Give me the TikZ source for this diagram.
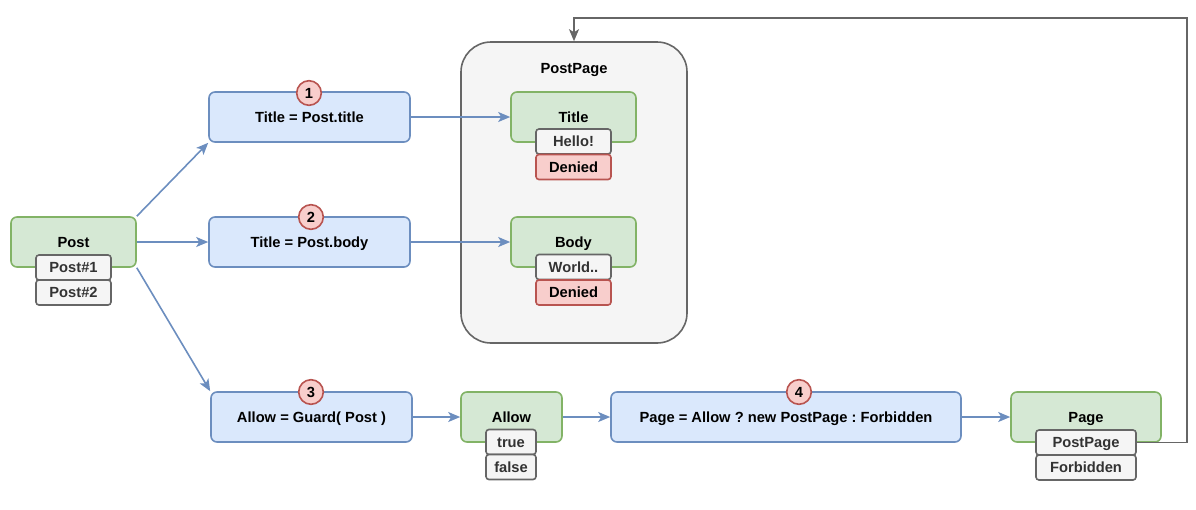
\documentclass[tikz,border=0pt]{standalone}
\usepackage{fontspec}
\setmainfont{Liberation Sans}
\usetikzlibrary{arrows.meta}
\frenchspacing
\definecolor{bfill}{HTML}{DAE8FC}
\definecolor{bdraw}{HTML}{6C8EBF}
\definecolor{gfill}{HTML}{D5E8D4}
\definecolor{gdraw}{HTML}{82B366}
\definecolor{rfill}{HTML}{F8CECC}
\definecolor{rdraw}{HTML}{B85450}
\definecolor{kfill}{HTML}{F5F5F5}
\definecolor{kdraw}{HTML}{666666}
\definecolor{ktext}{HTML}{333333}
\tikzset{
  base/.style={rounded corners=6pt, line width=1.6pt, inner sep=0pt,
    font=\fontsize{14.7}{17}\selectfont\bfseries, text height=10.4pt, text depth=0pt},
  bluebox/.style={base, draw=bdraw, fill=bfill, minimum width=201pt, minimum height=50pt},
  greenbox/.style={base, draw=gdraw, fill=gfill, minimum height=50pt},
  itembox/.style={base, rounded corners=3pt, draw=kdraw, fill=kfill, text=ktext, minimum height=25pt},
  denybox/.style={base, rounded corners=3pt, draw=rdraw, fill=rfill, minimum width=75pt, minimum height=25pt},
  numcirc/.style={circle, draw=rdraw, fill=rfill, line width=1.6pt, minimum size=24.6pt, inner sep=0pt,
    font=\fontsize{14.7}{17}\selectfont\bfseries, text height=10.4pt, text depth=0pt},
  tip/.style={-{Stealth[length=12pt,width=10pt,inset=3pt]}},
  flow/.style={draw=bdraw, line width=1.6pt, tip},
  loop/.style={draw=kdraw, line width=1.6pt, tip},
}
\begin{document}
\begin{tikzpicture}[x=1pt,y=-1pt]
\useasboundingbox (0,0) rectangle (1196,509);

% PostPage container
\node[base, draw=kdraw, fill=kfill, rounded corners=30pt, minimum width=226pt, minimum height=301pt] (cont) at (574,192.5) {};
\node[font=\fontsize{14.7}{17}\selectfont\bfseries, inner sep=0pt, text height=10.4pt, text depth=0pt] (contlbl) at (574,68) {PostPage};

% Post
\node[greenbox, minimum width=125pt] (post) at (73.5,242) {Post};
\node[itembox, minimum width=75pt] (post1) at (73.5,267.5) {Post\#1};
\node[itembox, minimum width=75pt] (post2) at (73.5,292.5) {Post\#2};

% Blue boxes
\node[bluebox] (t1) at (309.5,117) {Title = Post.title};
\node[bluebox] (t2) at (309.5,242) {Title = Post.body};
\node[bluebox] (al) at (311.5,417) {Allow = Guard( Post )};
\node[bluebox, minimum width=350pt] (pg) at (786,417) {Page = Allow ? new PostPage : Forbidden};

\node[numcirc] (n1) at (309,93) {1};
\node[numcirc] (n2) at (311,217) {2};
\node[numcirc] (n3) at (311,392) {3};
\node[numcirc] (n4) at (799,392) {4};

% Title / Body
\node[greenbox, minimum width=125pt] (title) at (573.5,117) {Title};
\node[itembox, minimum width=75pt] (hello) at (573.5,141.5) {Hello!};
\node[denybox] (deny1) at (573.5,167) {Denied};
\node[greenbox, minimum width=125pt] (body) at (573.5,242) {Body};
\node[itembox, minimum width=75pt] (world) at (573.5,267) {World..};
\node[denybox] (deny2) at (573.5,292.5) {Denied};

% Allow
\node[greenbox, minimum width=101pt] (allow) at (511.5,417) {Allow};
\node[itembox, minimum width=50pt] (true) at (511,442) {true};
\node[itembox, minimum width=50pt] (false) at (511,467) {false};

% Page
\node[greenbox, minimum width=150pt] (page) at (1086,417) {Page};
\node[itembox, minimum width=100pt] (ppage) at (1086,442.5) {PostPage};
\node[itembox, minimum width=100pt] (forb) at (1086,467.5) {Forbidden};

% connectors
\draw[flow] (post.north east) -- (t1.south west);
\draw[flow] (post.east) -- (t2.west);
\draw[flow] (post.south east) -- (al.north west);
\draw[flow] (t1.east) -- (title.west);
\draw[flow] (t2.east) -- (body.west);
\draw[flow] (al.east) -- (allow.west);
\draw[flow] (allow.east) -- (pg.west);
\draw[flow] (pg.east) -- (page.west);

\coordinate (lr) at (1187,442.5);
\coordinate (tr) at (1187,18);
\coordinate (tl) at (574,18);
\draw[loop] (ppage.east) -- (lr) -- (tr) -- (tl) -- (cont.north);
\end{tikzpicture}
\end{document}
